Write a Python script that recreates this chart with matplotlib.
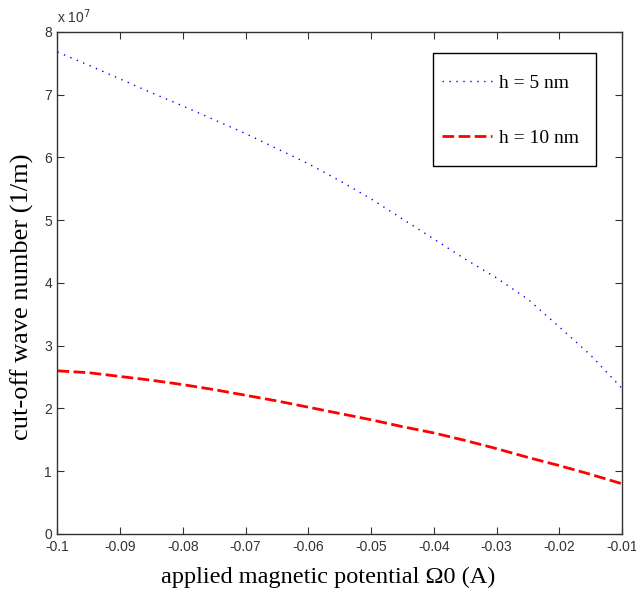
import numpy as np
import matplotlib
matplotlib.use('Agg')
import matplotlib.pyplot as plt
from matplotlib.patches import Rectangle
from matplotlib.ticker import FuncFormatter

# applied magnetic potential (A)
omega0 = [-0.100, -0.095, -0.090, -0.085, -0.080, -0.075, -0.070, -0.065, -0.060, -0.055,
          -0.050, -0.045, -0.040, -0.035, -0.030, -0.025, -0.020, -0.015, -0.010]

# cut-off wave number, in units of 1e7 (1/m)
k_h5 = [7.68, 7.47, 7.25, 7.03, 6.82, 6.60, 6.38, 6.14, 5.90, 5.63,
        5.34, 5.02, 4.70, 4.38, 4.08, 3.74, 3.30, 2.85, 2.32]
k_h10 = [2.60, 2.57, 2.51, 2.45, 2.38, 2.30, 2.21, 2.12, 2.02, 1.92,
         1.82, 1.71, 1.61, 1.49, 1.36, 1.22, 1.09, 0.95, 0.80]

x_ticks = [-0.1, -0.09, -0.08, -0.07, -0.06, -0.05, -0.04, -0.03, -0.02, -0.01]
y_ticks = [0, 1, 2, 3, 4, 5, 6, 7, 8]

axis_color = '#333333'

fig = plt.figure(figsize=(6.36, 5.92), dpi=100)
fig.subplots_adjust(left=0.0904, right=0.978, bottom=0.098, top=0.946)
ax = fig.add_subplot(111)

x = np.array(omega0)
ax.plot(x, np.array(k_h5) * 1e7, color='#0000ff', lw=1.0, dashes=(1, 4.0),
        label='h = 5 nm')
ax.plot(x, np.array(k_h10) * 1e7, color='#ff0000', lw=2.0, dashes=(4.2, 1.6),
        label='h = 10 nm')

ax.set_xlim(-0.1, -0.01)
ax.set_ylim(0, 8e7)
ax.set_xticks(x_ticks)
ax.set_yticks([v * 1e7 for v in y_ticks])
ax.xaxis.set_major_formatter(FuncFormatter(lambda v, p: ('%g' % v)))
ax.yaxis.set_major_formatter(FuncFormatter(lambda v, p: ('%g' % (v / 1e7))))

ax.tick_params(direction='in', top=True, right=True, length=5, width=0.8,
               colors=axis_color, labelsize=10, pad=4)
for lbl in ax.get_xticklabels() + ax.get_yticklabels():
    lbl.set_family('Liberation Sans')
for s in ax.spines.values():
    s.set_color(axis_color)
    s.set_linewidth(1.0)

ax.text(0.0, 1.012, r'x 10$^{7}$', transform=ax.transAxes, fontsize=10,
        family='Liberation Sans', color=axis_color, ha='left', va='bottom')

ax.set_xlabel('applied magnetic potential \u03a90 (A)', family='Liberation Serif',
              fontsize=17.5, color='black')
ax.set_ylabel('cut-off wave number (1/m)', family='Liberation Serif',
              fontsize=19, color='black')
ax.xaxis.set_label_coords(0.479, -0.066)
ax.yaxis.set_label_coords(-0.041, 0.472)

# legend box drawn as a plain rectangle, MATLAB style (taller than wide padding)
ax.add_patch(Rectangle((0.665, 0.733), 0.289, 0.225, transform=ax.transAxes,
                       facecolor='white', edgecolor='black', lw=1.0, zorder=4))
leg = ax.legend(loc='center left', bbox_to_anchor=(0.681, 0.8436),
                prop={'family': 'Liberation Serif', 'size': 14},
                handlelength=2.6, labelspacing=1.9, borderpad=0,
                handletextpad=0.36, borderaxespad=0, frameon=False)
leg.set_zorder(5)

fig.savefig('out.png', dpi=100)
